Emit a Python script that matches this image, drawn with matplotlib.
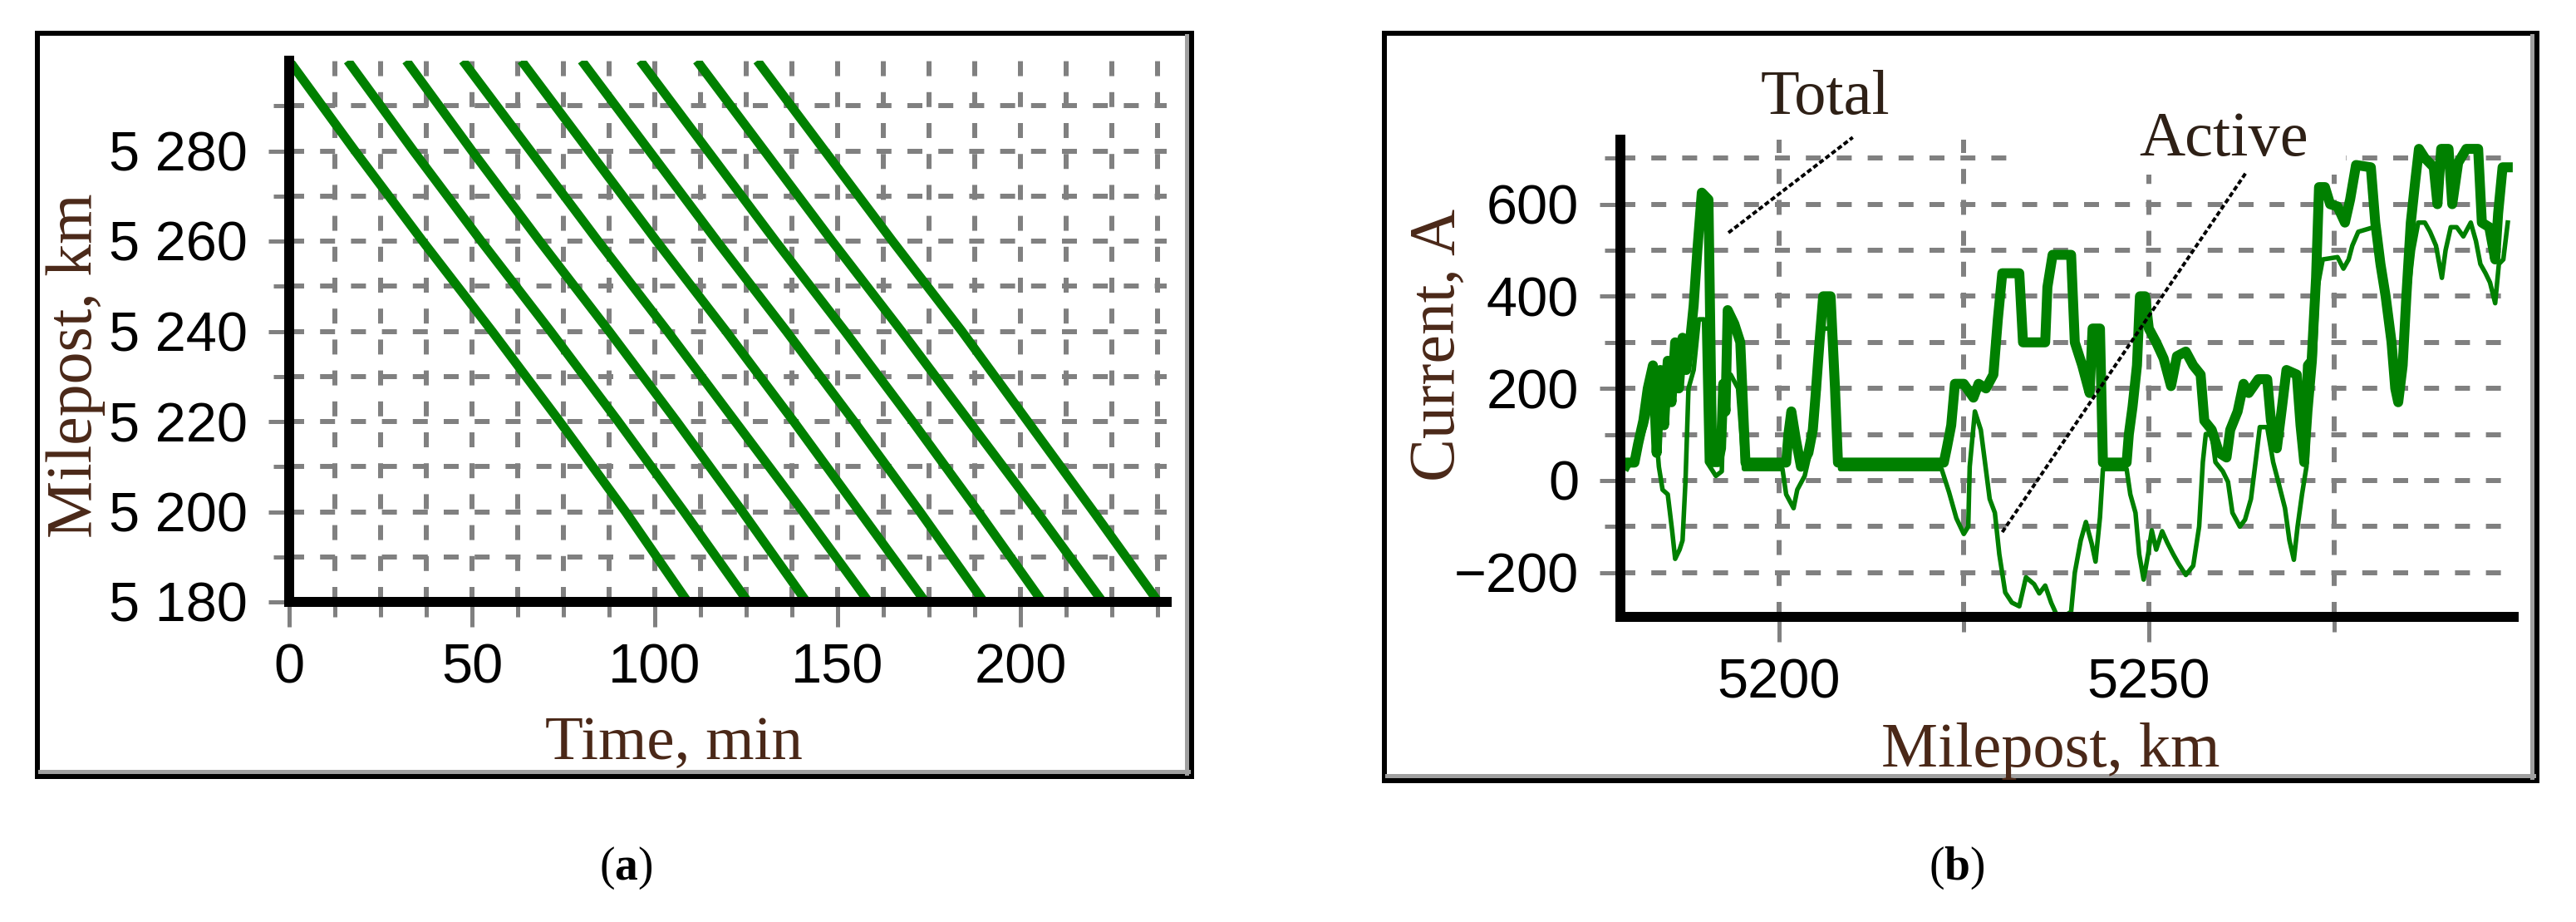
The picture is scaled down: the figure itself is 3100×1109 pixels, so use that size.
import matplotlib
matplotlib.use('Agg')
import matplotlib.pyplot as plt
from matplotlib.patches import Rectangle
from matplotlib.lines import Line2D
from matplotlib.ticker import FixedLocator, FuncFormatter

plt.rcParams['font.family'] = ['Liberation Sans', 'DejaVu Sans']
plt.rcParams['mathtext.fontset'] = 'custom'
plt.rcParams['mathtext.rm'] = 'Liberation Serif'
plt.rcParams['mathtext.bf'] = 'Liberation Serif:bold'

# ---------------- data (a): train graph ----------------
mileposts = [5300, 5280, 5260, 5240, 5220, 5200, 5180]
train_times = [
    [0, 18, 36.5, 55.5, 74, 92, 109],
    [16, 34, 52.5, 71.5, 90, 108, 125.5],
    [32, 50, 68.5, 87.5, 106, 124, 141.5],
    [47.5, 66, 84.5, 103.5, 122, 140.5, 158.5],
    [63.5, 82, 100.5, 119.5, 138, 156, 174],
    [80, 98.5, 117, 136, 154.5, 172.5, 190],
    [96, 114.5, 133, 152, 170.5, 188.5, 206],
    [111.5, 130, 148.5, 167.5, 186, 204.5, 222.5],
    [128, 146.5, 165, 184, 202, 220, 237.7],
]
time_major = [0, 50, 100, 150, 200]
time_minor = [12.5, 25, 37.5, 62.5, 75, 87.5, 112.5, 125, 137.5,
              162.5, 175, 187.5, 212.5, 225, 237.5]
mp_major = [5180, 5200, 5220, 5240, 5260, 5280]
mp_minor = [5190, 5210, 5230, 5250, 5270, 5290]

# ---------------- data (b): current along the section ----------------
total_km = [5179.5, 5180.5, 5181, 5181.7, 5182.3, 5183, 5183.5, 5184, 5184.5, 5185,
            5185.5, 5186, 5186.5, 5187, 5187.5, 5188, 5188.5, 5189, 5189.6, 5190.5,
            5191, 5191.8, 5192.2, 5192.5, 5192.8, 5193.1, 5194, 5194.8, 5195.5, 5201,
            5201.3, 5201.7, 5202.3, 5203, 5204, 5204.6, 5205, 5205.5, 5206, 5207,
            5207.6, 5208, 5222.3, 5222.7, 5223.3, 5223.8, 5225, 5226.3, 5227, 5228,
            5229, 5229.6, 5230.2, 5232.5, 5233, 5236, 5236.3, 5237, 5239.5, 5240,
            5241, 5242, 5242.4, 5243.4, 5243.8, 5247, 5247.3, 5247.8, 5248.4, 5248.8,
            5249.5, 5250, 5251, 5252, 5253, 5253.8, 5255, 5256, 5257, 5257.5,
            5258.5, 5259.5, 5260.5, 5261, 5262, 5262.8, 5263.5, 5264.8, 5266, 5266.5,
            5267.3, 5268, 5268.6, 5270, 5270.5, 5271, 5271.5, 5272, 5272.6, 5273,
            5273.8, 5274.5, 5275.5, 5276.5, 5277.2, 5278, 5280, 5280.6, 5281.3, 5282,
            5282.8, 5283.3, 5283.7, 5284.3, 5284.8, 5285.4, 5286, 5286.5, 5287.3, 5288.5,
            5289, 5289.5, 5290.5, 5291, 5291.8, 5292.9, 5294.5, 5295, 5296, 5296.8,
            5297.2, 5297.8, 5298.5]
total_a = [39, 39, 80, 130, 200, 250, 60, 240, 120, 260,
           170, 300, 200, 310, 240, 300, 380, 500, 625, 610,
           40, 40, 70, 210, 150, 370, 340, 300, 39, 39,
           100, 150, 90, 30, 60, 110, 190, 300, 400, 400,
           200, 39, 39, 70, 120, 210, 210, 180, 210, 200,
           230, 350, 450, 450, 300, 300, 420, 490, 490, 300,
           250, 190, 330, 330, 39, 39, 100, 160, 250, 400,
           400, 330, 300, 265, 205, 270, 280, 250, 230, 130,
           110, 60, 50, 110, 150, 210, 190, 220, 220, 130,
           70, 160, 240, 230, 120, 40, 250, 260, 440, 637,
           637, 600, 595, 560, 610, 685, 680, 560, 470, 400,
           300, 200, 170, 250, 400, 560, 650, 720, 700, 680,
           600, 720, 720, 600, 690, 720, 720, 560, 550, 480,
           580, 680, 680]

active_km = [5179.5, 5181, 5182, 5183, 5183.8, 5184.3, 5185, 5185.6, 5186, 5186.6,
             5187, 5187.4, 5187.8, 5188.5, 5189.2, 5189.9, 5190.3, 5191.5, 5192.3, 5192.6,
             5193.5, 5194.5, 5195.3, 5200.5, 5201, 5202, 5202.5, 5203.5, 5204.5, 5205.3,
             5206, 5207.3, 5207.8, 5208.3, 5222, 5223, 5224, 5225, 5225.6, 5225.8,
             5226.5, 5227.3, 5228.5, 5229.2, 5229.8, 5230.6, 5231.5, 5232.5, 5233.4, 5234.5,
             5235.2, 5236, 5236.8, 5237.5, 5238.5, 5239.5, 5240, 5240.8, 5241.5, 5242.3,
             5242.8, 5243.4, 5243.8, 5247, 5247.5, 5248.2, 5248.7, 5249.3, 5249.9, 5250.4,
             5251, 5251.8, 5252.5, 5253.3, 5254, 5255, 5256, 5256.8, 5257.3, 5257.7,
             5258.5, 5259, 5260, 5260.7, 5261.3, 5262.3, 5263, 5263.8, 5264.5, 5265,
             5266, 5266.8, 5267.5, 5268.4, 5269, 5269.6, 5270.1, 5270.7, 5271.3, 5271.8,
             5272.4, 5272.8, 5273.5, 5275.5, 5276.3, 5277, 5277.5, 5278.3, 5280.4, 5281,
             5281.8, 5282.5, 5283.3, 5283.7, 5284.4, 5285, 5285.7, 5286.4, 5287.3, 5288,
             5288.8, 5289.6, 5290.1, 5290.8, 5291.6, 5292.5, 5293.5, 5294.2, 5294.8, 5295.5,
             5296.1, 5296.8, 5297.3, 5297.9, 5298.5]
active_a = [25, 70, 120, 190, 30, -20, -30, -110, -170, -150,
            -130, 0, 200, 240, 350, 350, 40, 10, 20, 200,
            230, 200, 25, 25, -30, -60, -20, 10, 80, 250,
            330, 330, 120, 25, 25, -25, -82, -116, -100, 30,
            150, 110, -40, -70, -160, -243, -265, -273, -210, -225,
            -245, -228, -265, -290, -295, -285, -200, -130, -90, -138,
            -176, -80, 25, 25, -30, -70, -160, -215, -160, -108,
            -150, -110, -135, -160, -180, -205, -185, -100, 40, 101,
            101, 40, 20, -3, -70, -100, -85, -40, 50, 116,
            116, 40, -3, -60, -130, -172, -100, -30, 30, 150,
            260, 420, 480, 485, 460, 480, 510, 540, 550, 470,
            400, 300, 190, 170, 250, 400, 500, 560, 560, 540,
            510, 440, 500, 550, 550, 530, 560, 520, 470, 450,
            430, 385, 470, 480, 560]

km_major = [5200, 5250]
km_minor = [5225, 5275]
amp_major = [-200, 0, 200, 400, 600]
amp_minor = [-100, 100, 300, 500, 700]

total_leader = ([5193.2, 5210], [538, 745])
active_leader = ([5230.2, 5263.2], [-112, 670])

# ---------------- layout helpers ----------------
W, H = 3100, 1109
GREEN = '#008000'
GRID = '#808080'
TITLE = '#4a2818'
LABEL = '#2e2016'


def pt(p):
    return p * 0.72


def fx(x):
    return x / W


def fy(y):
    return 1 - y / H


fig = plt.figure(figsize=(W / 100, H / 100), dpi=100)


def frame(x0, y0, x1, y1):
    # black window border with grey inner shade on right/bottom
    fig.add_artist(Rectangle((fx(x0 + 3), fy(y1 - 3)), (x1 - x0 - 6) / W, (y1 - y0 - 6) / H,
                             transform=fig.transFigure, fill=False, ec='black', lw=pt(6)))
    fig.add_artist(Line2D([fx(x1 - 9.5), fx(x1 - 9.5)], [fy(y0 + 6), fy(y1 - 7)],
                          transform=fig.transFigure, color='#a0a0a0', lw=pt(5)))
    fig.add_artist(Line2D([fx(x0 + 6), fx(x1 - 7)], [fy(y1 - 9.5), fy(y1 - 9.5)],
                          transform=fig.transFigure, color='#a0a0a0', lw=pt(5)))


def style(ax, xmaj, xmin, ymaj, ymin):
    ax.set_axisbelow(True)
    for s in ['top', 'right']:
        ax.spines[s].set_visible(False)
    for s in ['left', 'bottom']:
        ax.spines[s].set_linewidth(pt(12))
        ax.spines[s].set_color('black')
    ax.xaxis.set_major_locator(FixedLocator(xmaj))
    ax.xaxis.set_minor_locator(FixedLocator(xmin))
    ax.yaxis.set_major_locator(FixedLocator(ymaj))
    ax.yaxis.set_minor_locator(FixedLocator(ymin))
    ax.grid(True, which='both', color=GRID, lw=pt(6), linestyle=(0, (3, 3.2)))
    ax.tick_params(which='both', color=GRID, width=pt(5), labelsize=48, labelcolor='black')
    ax.tick_params(axis='x', which='major', length=pt(30), pad=pt(20))
    ax.tick_params(axis='x', which='minor', length=pt(18))
    ax.tick_params(axis='y', which='major', length=pt(25), pad=pt(25))
    ax.tick_params(axis='y', which='minor', length=pt(19))
    ax.patch.set_alpha(0)


# ---------------- panel (a) ----------------
frame(42, 37, 1437, 937)
axL = fig.add_axes([fx(348), fy(724), (1404 - 348) / W, (724 - 73) / H])
for times in train_times:
    axL.plot(times, mileposts, color=GREEN, lw=pt(11), solid_capstyle='butt')
axL.set_xlim(0, 240)
axL.set_ylim(5180, 5300)
style(axL, time_major, time_minor, mp_major, mp_minor)
axL.yaxis.set_major_formatter(FuncFormatter(lambda v, p: f"{int(v) // 1000} {int(v) % 1000:03d}"))

fig.text(fx(110), fy(440), 'Milepost, km', rotation=90, rotation_mode='anchor',
         ha='center', va='baseline', family='Liberation Serif', fontsize=56, color=TITLE)
fig.text(fx(811), fy(913), 'Time, min', ha='center', va='baseline',
         family='Liberation Serif', fontsize=54, color=TITLE)

# ---------------- panel (b) ----------------
frame(1663, 37, 3056, 942)
axR = fig.add_axes([fx(1950), fy(742), (3025 - 1950) / W, (742 - 168) / H])
axR.plot(active_km, active_a, color=GREEN, lw=pt(5.5))
axR.plot(total_km, total_a, color=GREEN, lw=pt(12))
axR.set_xlim(5178.6, 5299.3)
axR.set_ylim(-296, 740)
style(axR, km_major, km_minor, amp_major, amp_minor)

# white label box hiding grid behind "Active"
axR.add_patch(Rectangle(((2428 - 1950) / 1075, (742 - 210) / 574), (2823 - 2428) / 1075,
                        (210 - 168) / 574, transform=axR.transAxes, fc='white', ec='none',
                        zorder=1, clip_on=False))

axR.plot(*total_leader, color='black', lw=pt(4), ls=(0, (1.5, 0.8)), clip_on=False)
axR.plot(*active_leader, color='black', lw=pt(4), ls=(0, (1.5, 0.8)), clip_on=False)
fig.text(fx(2196), fy(137), 'Total', ha='center', va='baseline',
         family='Liberation Serif', fontsize=55, color=LABEL)
fig.text(fx(2676), fy(187), 'Active', ha='center', va='baseline',
         family='Liberation Serif', fontsize=55, color=LABEL)

fig.text(fx(1750), fy(415), 'Current, A', rotation=90, rotation_mode='anchor',
         ha='center', va='baseline', family='Liberation Serif', fontsize=56, color=TITLE)
fig.text(fx(2468), fy(922), 'Milepost, km', ha='center', va='baseline',
         family='Liberation Serif', fontsize=55, color=TITLE)

# ---------------- captions ----------------
fig.text(fx(753), fy(1058), r'($\mathbf{a}$)', ha='center', va='baseline',
         family='Liberation Serif', fontsize=40)
fig.text(fx(2355), fy(1058), r'($\mathbf{b}$)', ha='center', va='baseline',
         family='Liberation Serif', fontsize=40)

fig.savefig('out.png', dpi=100)
